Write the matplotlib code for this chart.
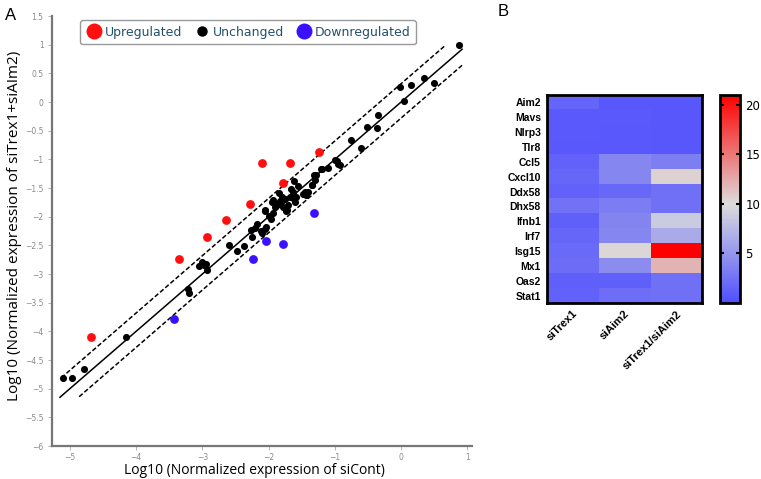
import numpy as np
import matplotlib.pyplot as plt
from matplotlib.colors import LinearSegmentedColormap
from matplotlib.lines import Line2D

# ---------- dados do painel A ----------
up_x = [-4.68, -3.35, -2.93, -2.64, -2.28, -2.10, -1.79, -1.68, -1.24]
up_y = [-4.10, -2.74, -2.36, -2.06, -1.78, -1.07, -1.41, -1.07, -0.87]

down_x = [-2.04, -1.78, -2.24, -3.43, -1.31]
down_y = [-2.43, -2.48, -2.73, -3.78, -1.93]

unch_x = [-5.10, -4.97, -4.78, -4.16, -3.21, -3.20, -3.05, -3.00, -2.94, -2.93,
          -2.97, -2.60, -2.47, -2.37, -2.25, -2.27, -2.10, -2.06, -2.21, -2.18,
          -2.04, -1.97, -2.05, -2.06, -1.94, -1.90, -1.88, -1.93, -1.85, -1.95,
          -1.80, -1.78, -1.74, -1.72, -1.64, -1.67, -1.59, -1.63, -1.55, -1.61,
          -1.60, -1.48, -1.45, -1.43, -1.40, -1.35, -1.34, -1.30, -1.31, -1.29,
          -1.21, -1.20, -1.11, -1.00, -0.97, -0.95, -0.93, -0.75, -0.60, -0.51,
          -0.37, -0.35, -0.02, 0.05, 0.15, 0.35, 0.49, 0.88, -1.70, -1.76,
          -1.83, -1.66, -2.12, -2.00, -1.62]
unch_y = [-4.81, -4.81, -4.65, -4.10, -3.26, -3.34, -2.86, -2.79, -2.82, -2.93,
          -2.84, -2.49, -2.60, -2.51, -2.35, -2.23, -2.28, -2.22, -2.20, -2.13,
          -2.18, -2.04, -1.89, -1.90, -1.71, -1.84, -1.78, -1.94, -1.59, -1.74,
          -1.65, -1.83, -1.90, -1.89, -1.65, -1.65, -1.65, -1.57, -1.47, -1.38,
          -1.74, -1.61, -1.57, -1.62, -1.57, -1.45, -1.45, -1.36, -1.27, -1.27,
          -1.17, -1.17, -1.15, -1.01, -1.03, -1.09, -1.10, -0.66, -0.80, -0.44,
          -0.45, -0.22, 0.26, 0.01, 0.30, 0.41, 0.33, 1.00, -1.80, -1.70,
          -1.72, -1.52, -2.25, -1.98, -1.70]

# retas de referência (intercepto, x inicial, x final)
linha_central = (0.0, -5.15, 0.92)
linha_sup = (0.32, -5.13, 0.65)
linha_inf = (-0.28, -4.86, 0.92)

# ---------- dados do painel B ----------
genes = ["Aim2", "Mavs", "Nlrp3", "Tlr8", "Ccl5", "Cxcl10", "Ddx58", "Dhx58",
         "Ifnb1", "Irf7", "Isg15", "Mx1", "Oas2", "Stat1"]
condicoes = ["siTrex1", "siAim2", "siTrex1/siAim2"]
siTrex1 = [1.6, 0.9, 0.9, 0.7, 1.4, 1.7, 1.4, 2.6, 1.2, 1.7, 2.0, 2.1, 1.2, 1.4]
siAim2 = [0.6, 0.8, 0.7, 0.7, 4.0, 4.0, 1.8, 3.3, 3.8, 4.0, 10.2, 4.4, 1.2, 2.2]
siTrex1_siAim2 = [0.6, 0.6, 0.6, 0.6, 3.4, 10.5, 2.4, 2.4, 8.7, 6.5, 21.0, 12.0, 2.4, 2.4]

# ---------- fontes ----------
fonte_ticks = {"fontsize": 5.5, "color": "#8a8a8a"}
fonte_genes = {"fontsize": 7.5, "fontweight": "bold", "family": "Liberation Sans"}

fig = plt.figure(figsize=(7.61, 4.79), dpi=100)

# ================= Painel A =================
ax = fig.add_axes([52 / 761, 1 - 446 / 479, 420 / 761, 430 / 479])
ax.set_xlim(-5.27, 1.07)
ax.set_ylim(-6, 1.5)

for (b, x0, x1), estilo in zip([linha_central, linha_sup, linha_inf], ["-", "--", "--"]):
    xs = np.array([x0, x1])
    ax.plot(xs, xs + b, color="black", lw=1.1, ls=estilo, dashes=(3, 1.5) if estilo == "--" else (None, None), zorder=1)

ax.scatter(unch_x, unch_y, s=26, color="black", zorder=3, linewidths=0)
ax.scatter(up_x, up_y, s=40, color="#ff1010", zorder=3, linewidths=0)
ax.scatter(down_x, down_y, s=40, color="#3a10ff", zorder=3, linewidths=0)

ax.set_xticks(range(-5, 2))
ax.set_yticks(np.arange(-6, 1.51, 0.5))
ax.set_xticklabels([f"{v:g}".replace("-", "\u2212") for v in range(-5, 2)], **fonte_ticks)
ax.set_yticklabels([f"{v:g}".replace("-", "\u2212") for v in np.arange(-6, 1.51, 0.5)], **fonte_ticks)
ax.tick_params(length=3, width=0.6, color="#aaaaaa", pad=3)
ax.tick_params(axis="x", pad=2)
for lado in ["top", "right"]:
    ax.spines[lado].set_visible(False)
for lado in ["left", "bottom"]:
    ax.spines[lado].set_color("#777777")
    ax.spines[lado].set_linewidth(1.6)

# rótulos dos eixos posicionados na figura
fig.text(254 / 761, 1 - 470 / 479, "Log10 (Normalized expression of siCont)",
         ha="center", va="center", fontsize=10, family="Open Sans")
fig.text(15 / 761, 1 - 226 / 479, "Log10 (Normalized expression of siTrex1+siAIm2)",
         ha="center", va="center", rotation=90, fontsize=11, family="Open Sans")

handles = [Line2D([], [], ls="", marker="o", ms=11.5, color="#ff1010", mec="none"),
           Line2D([], [], ls="", marker="o", ms=7.5, color="black", mec="none"),
           Line2D([], [], ls="", marker="o", ms=11.5, color="#3a10ff", mec="none")]
leg = fig.legend(handles, ["Upregulated", "Unchanged", "Downregulated"], ncol=3,
                 loc="upper left", bbox_to_anchor=(80 / 761, 1 - 20 / 479), borderaxespad=0,
                 handletextpad=0.1, columnspacing=0.95, borderpad=0.45, handlelength=1.4,
                 prop={"size": 9, "family": "DejaVu Sans"}, fancybox=True,
                 edgecolor="#999999", framealpha=1)
for t in leg.get_texts():
    t.set_color("#24506e")

fig.text(5 / 761, 1 - 15 / 479, "A", fontsize=12, va="center", family="Liberation Sans")
fig.text(498 / 761, 1 - 12 / 479, "B", fontsize=12, va="center", family="Liberation Sans")

# ================= Painel B =================
cmap = LinearSegmentedColormap.from_list("azul_vermelho", [(0, "#4f4fff"), (10 / 21, "#dcdcdc"), (1, "#ff0000")])
matriz = np.array([siTrex1, siAim2, siTrex1_siAim2]).T

axh = fig.add_axes([546.5 / 761, 1 - 303 / 479, 155.5 / 761, 208 / 479])
im = axh.imshow(matriz, cmap=cmap, vmin=0, vmax=21, aspect="auto", interpolation="nearest")
axh.set_yticks(range(len(genes)))
axh.set_yticklabels(genes, **fonte_genes)
axh.set_xticks(range(len(condicoes)))
axh.set_xticklabels(condicoes, rotation=45, ha="right", rotation_mode="anchor",
                    fontsize=8, fontweight="bold", family="Liberation Sans")
axh.tick_params(length=0, pad=4)
for s in axh.spines.values():
    s.set_linewidth(2)

axc = fig.add_axes([720 / 761, 1 - 303 / 479, 20 / 761, 208 / 479])
cb = fig.colorbar(im, cax=axc, ticks=[5, 10, 15, 20])
cb.outline.set_linewidth(2)
axc.tick_params(direction="in", length=3, width=1.5, left=True, right=True, labelsize=8.5, pad=4)

fig.savefig("out.png", dpi=100)
